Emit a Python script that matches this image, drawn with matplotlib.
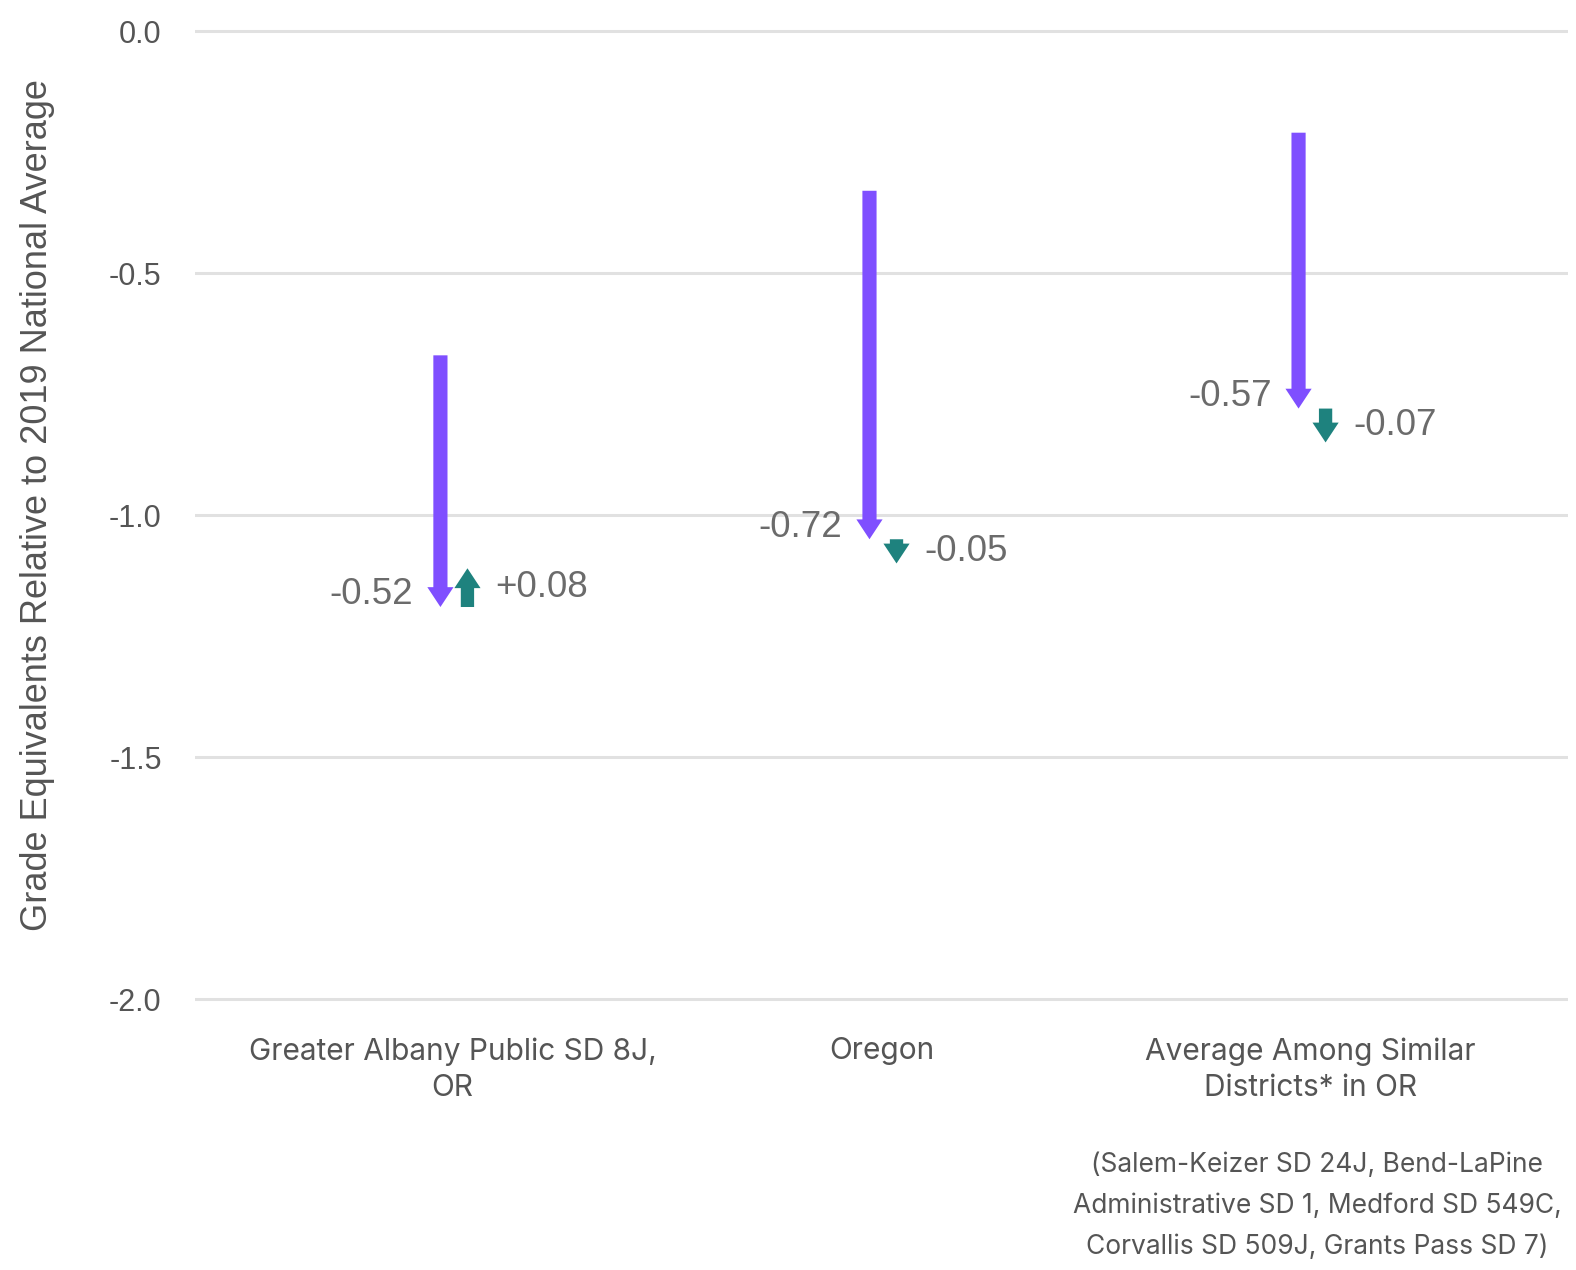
import matplotlib
matplotlib.use("Agg")
import matplotlib.pyplot as plt
import matplotlib.transforms as mtransforms

# data
categories = ["Greater Albany Public SD 8J,\nOR", "Oregon",
              "Average Among Similar\nDistricts* in OR"]
start_vals = [-0.67, -0.33, -0.21]
first_change = [-0.52, -0.72, -0.57]
second_change = [0.08, -0.05, -0.07]
y_ticks = [0.0, -0.5, -1.0, -1.5, -2.0]
footnote = ("(Salem-Keizer SD 24J, Bend-LaPine\n"
            "Administrative SD 1, Medford SD 549C,\n"
            "Corvallis SD 509J, Grants Pass SD 7)")

PURPLE = "#7f4fff"
TEAL = "#1e827e"
GREY = "#6b6b6b"

fig = plt.figure(figsize=(15.76, 12.7), dpi=100)
ax = fig.add_axes([195 / 1576, 0.1943, (1568 - 195) / 1576, 0.8003])

ax.set_xlim(-0.6, 2.6)
ax.set_ylim(-2.05, 0.05)

for t in y_ticks:
    ax.axhline(t, color="#e1e1e1", lw=2.2, zorder=0)

for i in range(len(categories)):
    x1 = i - 0.028
    x2 = i + 0.035
    y0 = start_vals[i]
    y1 = y0 + first_change[i]
    y2 = y1 + second_change[i]
    ax.arrow(x1, y0, 0, first_change[i], width=0.033, head_width=0.061,
             head_length=0.041, length_includes_head=True, color=PURPLE,
             lw=0, zorder=3)
    ax.arrow(x2, y1, 0, second_change[i], width=0.031, head_width=0.061,
             head_length=0.041, length_includes_head=True, color=TEAL,
             lw=0, zorder=3)
    ax.text(x1 - 0.063, y1 + 0.025, f"{first_change[i]:.2f}", ha="right",
            va="center", fontsize=26.5, color=GREY, family="Liberation Sans")
    ax.text(x2 + 0.065, (y1 + y2) / 2, f"{second_change[i]:+.2f}", ha="left",
            va="center", fontsize=26.5, color=GREY, family="Liberation Sans")

ax.set_yticks(y_ticks)
ax.set_yticklabels([f"{t:.1f}" for t in y_ticks], family="Liberation Sans",
                   fontsize=22, color="#555555")
ax.tick_params(axis="y", length=0, pad=24)

ax.set_xticks([])
trans = mtransforms.blended_transform_factory(ax.transData, fig.transFigure)
for i, lab in enumerate(categories):
    ax.text(i, 1 - 1037 / 1270, lab, transform=trans, ha="center", va="top",
            fontsize=21.5, color="#555555", family="Inter", linespacing=1.4)

for s in ax.spines.values():
    s.set_visible(False)

fig.text(38 / 1576, 1 - 505 / 1270,
         "Grade Equivalents Relative to 2019 National Average",
         rotation=90, ha="center", va="center", fontsize=26,
         color="#555555", family="Liberation Sans")

fig.text(1317 / 1576, 1 - 1152 / 1270, footnote, ha="center", va="top",
         fontsize=19, color="#555555", family="Inter", linespacing=1.75)

fig.savefig("out.png", dpi=100)
